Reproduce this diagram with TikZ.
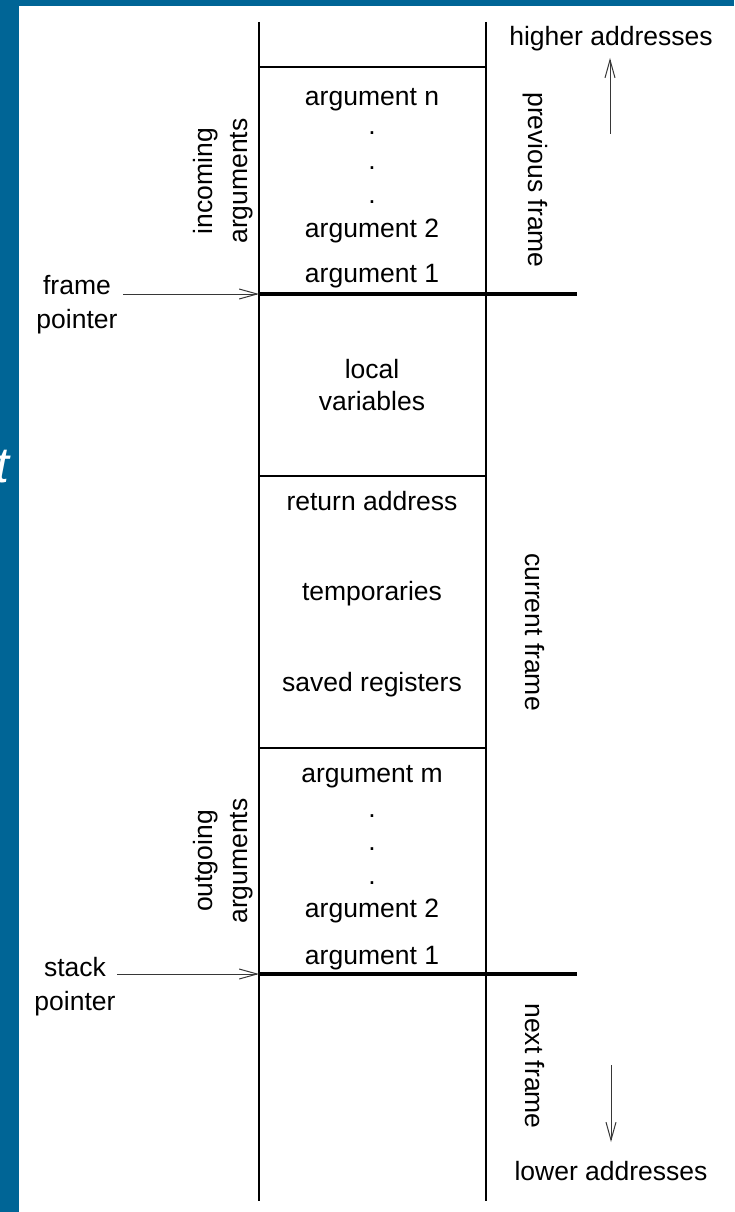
\documentclass[tikz,border=0pt]{standalone}
\usepackage{fontspec}
\setmainfont{Liberation Sans}
\usetikzlibrary{arrows.meta}
\definecolor{band}{RGB}{0,101,150}
\definecolor{arrowgray}{RGB}{55,55,55}
\begin{document}
\begin{tikzpicture}[x=1pt,y=-1pt,
  lbl/.style={font=\fontsize{26.5}{34}\selectfont, inner sep=0pt, anchor=base, text=black},
  rlbl/.style={font=\fontsize{26.5}{35}\selectfont, inner sep=0pt, anchor=center, align=center, text=black},
  cell/.style={line width=1.1pt, draw=black},
  bound/.style={line width=4pt, draw=black},
  ptr/.style={line width=1pt, draw=arrowgray, -{Straight Barb[length=18pt,width=10pt,line width=1pt]}}
]
\useasboundingbox (0,0) rectangle (734,1212);
\fill[white] (0,0) rectangle (734,1212);
\fill[band] (0,0) rectangle (19,1212);
\fill[band] (0,0) rectangle (734,6);
\node[font=\fontsize{50}{50}\selectfont\itshape, text=white, inner sep=0pt, anchor=base east] (tt) at (10,482) {t};

% column
\draw[cell] (259,22) -- (259,1201);
\draw[cell] (486,22) -- (486,1201);
\draw[cell] (259,67) -- (486,67);
\draw[cell] (259,476) -- (486,476);
\draw[cell] (259,748) -- (486,748);
\draw[bound] (259,294) -- (577,294);
\draw[bound] (259,974) -- (577,974);

% cell texts
\node[lbl] (an) at (372,106) {argument n};
\node[lbl] (dn1) at (372,135) {.};
\node[lbl] (dn2) at (372,169) {.};
\node[lbl] (dn3) at (372,203) {.};
\node[lbl] (a2u) at (372,237) {argument 2};
\node[lbl] (a1u) at (372,282) {argument 1};
\node[lbl] (loc) at (372,378) {local};
\node[lbl] (var) at (372,410) {variables};
\node[lbl] (ret) at (372,510) {return address};
\node[lbl] (tmp) at (372,600) {temporaries};
\node[lbl] (sav) at (372,691) {saved registers};
\node[lbl] (am) at (372,782) {argument m};
\node[lbl] (dm1) at (372,817) {.};
\node[lbl] (dm2) at (372,850) {.};
\node[lbl] (dm3) at (372,884) {.};
\node[lbl] (a2l) at (372,917) {argument 2};
\node[lbl] (a1l) at (372,964) {argument 1};

% side labels
\node[rlbl, rotate=90] (inc) at (223,181) {incoming\\arguments};
\node[rlbl, rotate=90] (out) at (223,861) {outgoing\\arguments};
\node[rlbl, rotate=-90] (prev) at (535,180) {previous frame};
\node[rlbl, rotate=-90] (cur) at (535,632) {current frame};
\node[rlbl, rotate=-90] (nxt) at (535,1066) {next frame};

% pointers
\node[lbl] (fp1) at (77,294) {frame};
\node[lbl] (fp2) at (77,328) {pointer};
\node[lbl] (sp1) at (75,976) {stack};
\node[lbl] (sp2) at (75,1010) {pointer};
\coordinate (fpA) at (123,294);
\coordinate (fpB) at (259,294);
\coordinate (spA) at (117,974);
\coordinate (spB) at (259,974);
\draw[ptr] (fpA) -- (fpB);
\draw[ptr] (spA) -- (spB);

% address direction
\node[lbl] (hi) at (611,46) {higher addresses};
\node[lbl] (lo) at (611,1180) {lower addresses};
\coordinate (hiA) at (610,134);
\coordinate (hiB) at (610,58);
\coordinate (loA) at (611,1065);
\coordinate (loB) at (611,1142);
\draw[ptr] (hiA) -- (hiB);
\draw[ptr] (loA) -- (loB);
\end{tikzpicture}
\end{document}
